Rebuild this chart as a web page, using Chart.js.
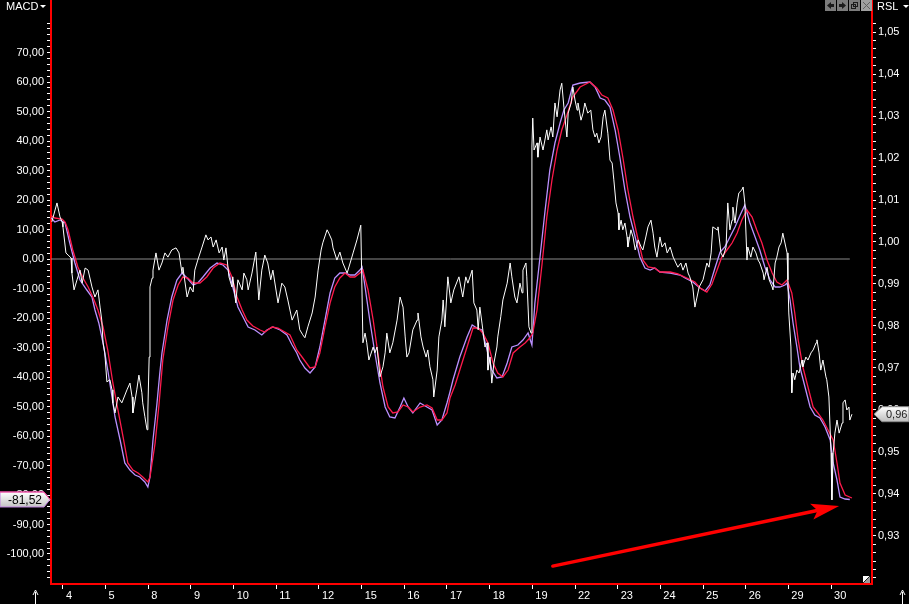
<!DOCTYPE html>
<html>
<head>
<meta charset="utf-8">
<script src="https://cdn.jsdelivr.net/npm/chart.js"></script>
<style>
  html, body { margin: 0; padding: 0; background: #000; }
  canvas { display: block; }
</style>
</head>
<body>
<canvas id="grafico" width="909" height="604"></canvas>
<script>
// day labels under the tick marks
const dayLabels = ['4','5','8','9','10','11','12','15','16','17','18','19','22','23','24','25','26','29','30']

// RSL (white, right axis)
const rslX = [
  -0.26,-0.14,-0.07,-0.02,0.00,0.07,0.12,0.19,0.21,0.26,
  0.33,0.40,0.45,0.52,0.59,0.68,0.75,0.82,0.87,0.91,
  0.94,0.98,1.03,1.10,1.15,1.17,1.22,1.29,1.38,1.50,
  1.57,1.62,1.64,1.73,1.78,1.85,1.87,1.92,1.97,1.99,
  2.02,2.04,2.09,2.11,2.18,2.25,2.32,2.39,2.46,2.55,
  2.65,2.72,2.79,2.81,2.91,2.98,3.05,3.09,3.16,3.26,
  3.35,3.40,3.47,3.52,3.59,3.66,3.73,3.77,3.82,3.89,
  3.96,3.98,4.05,4.10,4.20,4.24,4.31,4.34,4.43,4.52,
  4.59,4.66,4.73,4.80,4.87,4.92,5.04,5.13,5.20,5.27,
  5.37,5.48,5.55,5.62,5.67,5.74,5.84,5.91,5.98,6.05,
  6.09,6.19,6.23,6.30,6.33,6.42,6.49,6.56,6.66,6.80,
  6.89,6.98,7.03,7.08,7.12,7.17,7.27,7.31,7.36,7.43,
  7.50,7.55,7.59,7.66,7.73,7.83,7.90,7.97,8.02,8.06,
  8.11,8.20,8.30,8.32,8.39,8.44,8.51,8.55,8.60,8.67,
  8.69,8.77,8.81,8.88,8.91,8.95,9.02,9.09,9.16,9.28,
  9.37,9.44,9.49,9.59,9.63,9.70,9.73,9.77,9.82,9.89,
  9.94,9.96,10.01,10.05,10.10,10.17,10.19,10.26,10.31,10.41,
  10.48,10.52,10.59,10.64,10.71,10.76,10.78,10.85,10.87,10.92,
  10.97,10.99,11.01,11.04,11.11,11.13,11.18,11.25,11.34,11.37,
  11.44,11.48,11.53,11.58,11.65,11.69,11.74,11.81,11.84,11.91,
  11.95,12.00,12.05,12.07,12.14,12.19,12.23,12.30,12.37,12.42,
  12.47,12.51,12.56,12.61,12.66,12.70,12.77,12.82,12.87,12.91,
  12.96,13.01,13.03,13.08,13.12,13.17,13.22,13.24,13.31,13.36,
  13.41,13.48,13.55,13.59,13.66,13.71,13.78,13.83,13.87,13.92,
  13.99,14.04,14.11,14.16,14.23,14.30,14.41,14.48,14.53,14.60,
  14.65,14.69,14.76,14.81,14.86,14.91,15.00,15.09,15.14,15.19,
  15.23,15.33,15.35,15.42,15.47,15.54,15.58,15.63,15.68,15.70,
  15.75,15.80,15.84,15.91,15.94,15.98,16.03,16.05,16.12,16.17,
  16.24,16.29,16.33,16.41,16.43,16.50,16.55,16.62,16.64,16.69,
  16.73,16.78,16.83,16.87,16.94,16.97,16.99,17.01,17.06,17.07,
  17.08,17.11,17.15,17.20,17.25,17.32,17.34,17.41,17.46,17.53,
  17.58,17.65,17.67,17.72,17.76,17.81,17.88,17.90,17.95,18.00,
  18.02,18.05,18.09,18.14,18.19,18.26,18.28,18.33,18.37,18.42,
  18.44,18.49
]
const rslY = [
  1.0048,1.0093,1.0060,1.0048,1.0036,0.9974,0.9969,0.9962,0.9926,0.9886,
  0.9910,0.9933,0.9902,0.9938,0.9933,0.9893,0.9869,0.9886,0.9845,0.9814,
  0.9760,0.9736,0.9667,0.9672,0.9648,0.9617,0.9593,0.9631,0.9617,0.9648,
  0.9664,0.9631,0.9593,0.9648,0.9683,0.9641,0.9617,0.9584,0.9553,0.9600,
  0.9726,0.9893,0.9914,0.9933,0.9974,0.9933,0.9950,0.9974,0.9964,0.9981,
  0.9986,0.9974,0.9926,0.9940,0.9869,0.9893,0.9881,0.9933,0.9957,0.9988,
  1.0017,1.0005,1.0012,0.9988,1.0005,0.9974,0.9988,0.9957,0.9986,0.9917,
  0.9893,0.9917,0.9855,0.9910,0.9886,0.9926,0.9910,0.9886,0.9926,0.9976,
  0.9862,0.9933,0.9969,0.9950,0.9910,0.9933,0.9855,0.9902,0.9893,0.9862,
  0.9814,0.9838,0.9791,0.9779,0.9772,0.9798,0.9831,0.9869,0.9933,0.9981,
  0.9998,1.0029,1.0021,1.0005,0.9986,0.9957,0.9976,0.9950,0.9926,0.9974,
  1.0005,1.0040,0.9760,0.9783,0.9760,0.9719,0.9750,0.9736,0.9750,0.9679,
  0.9703,0.9736,0.9783,0.9736,0.9760,0.9814,0.9869,0.9845,0.9774,0.9726,
  0.9736,0.9791,0.9814,0.9831,0.9774,0.9750,0.9726,0.9743,0.9703,0.9672,
  0.9631,0.9695,0.9774,0.9814,0.9862,0.9798,0.9917,0.9855,0.9886,0.9917,
  0.9869,0.9917,0.9902,0.9933,0.9855,0.9838,0.9791,0.9845,0.9807,0.9750,
  0.9760,0.9695,0.9726,0.9664,0.9712,0.9750,0.9774,0.9822,0.9862,0.9902,
  0.9950,0.9917,0.9869,0.9855,0.9902,0.9879,0.9933,0.9950,0.9917,0.9798,
  0.9783,1.0226,1.0295,1.0219,1.0236,1.0202,1.0250,1.0219,1.0267,1.0243,
  1.0274,1.0250,1.0331,1.0298,1.0362,1.0378,1.0321,1.0250,1.0307,1.0331,
  1.0369,1.0338,1.0314,1.0331,1.0290,1.0307,1.0331,1.0307,1.0314,1.0267,
  1.0250,1.0259,1.0236,1.0250,1.0298,1.0314,1.0259,1.0195,1.0188,1.0148,
  1.0093,1.0069,1.0029,1.0052,1.0029,1.0045,1.0012,0.9988,1.0029,1.0012,
  0.9981,1.0005,0.9988,0.9981,1.0012,1.0036,1.0052,1.0021,0.9988,0.9964,
  1.0012,0.9988,0.9998,0.9974,0.9988,0.9964,0.9940,0.9950,0.9933,0.9950,
  0.9926,0.9917,0.9893,0.9845,0.9869,0.9893,0.9910,0.9950,0.9940,0.9974,
  1.0036,1.0029,1.0036,0.9974,0.9964,0.9988,1.0093,1.0029,1.0052,1.0083,
  1.0045,1.0093,1.0117,1.0124,1.0131,1.0093,0.9957,0.9988,0.9964,0.9988,
  0.9974,0.9957,0.9950,0.9926,0.9910,0.9940,0.9910,0.9893,0.9886,0.9950,
  0.9964,0.9988,0.9998,1.0021,0.9988,0.9974,0.9910,0.9831,0.9750,0.9688,
  0.9641,0.9688,0.9672,0.9695,0.9688,0.9719,0.9703,0.9726,0.9719,0.9736,
  0.9743,0.9760,0.9767,0.9736,0.9695,0.9719,0.9679,0.9672,0.9631,0.9498,
  0.9386,0.9498,0.9545,0.9576,0.9545,0.9569,0.9617,0.9624,0.9600,0.9607,
  0.9576,0.9590
]

// MACD (violet, left axis)
const macdX = [
  -0.30,-0.19,-0.07,0.05,0.16,0.28,0.40,0.56,0.68,0.75,
  0.84,0.94,1.05,1.15,1.22,1.34,1.45,1.57,1.69,1.80,
  1.92,1.99,2.04,2.11,2.20,2.27,2.32,2.44,2.55,2.67,
  2.79,2.91,3.05,3.16,3.28,3.45,3.61,3.75,3.87,3.98,
  4.10,4.22,4.34,4.50,4.66,4.78,4.92,5.09,5.25,5.37,
  5.48,5.55,5.67,5.79,5.91,6.02,6.14,6.26,6.37,6.49,
  6.61,6.73,6.84,6.96,7.01,7.08,7.19,7.31,7.43,7.55,
  7.66,7.78,7.90,7.99,8.09,8.20,8.37,8.53,8.65,8.77,
  8.88,9.00,9.07,9.14,9.30,9.47,9.59,9.70,9.82,9.94,
  10.05,10.17,10.29,10.41,10.52,10.66,10.78,10.90,10.99,11.06,
  11.18,11.30,11.41,11.53,11.65,11.74,11.84,11.95,12.12,12.35,
  12.47,12.59,12.70,12.82,12.94,13.05,13.17,13.29,13.41,13.52,
  13.64,13.76,13.87,13.99,14.23,14.46,14.58,14.76,14.93,15.05,
  15.16,15.28,15.40,15.51,15.63,15.75,15.87,15.98,16.10,16.22,
  16.33,16.45,16.57,16.69,16.80,16.92,16.97,17.04,17.11,17.20,
  17.27,17.39,17.51,17.62,17.74,17.86,17.98,18.05,18.14,18.21,
  18.33,18.44
]
const macdY = [
  14.24,12.54,13.22,12.20,5.42,-1.36,-7.12,-10.51,-12.88,-17.29,
  -21.69,-28.47,-37.63,-46.78,-53.56,-61.36,-69.15,-71.53,-73.22,-73.90,
  -75.59,-77.29,-73.90,-61.36,-49.49,-38.64,-31.86,-20.68,-12.88,-7.12,
  -4.75,-6.44,-8.81,-8.14,-6.10,-3.05,-1.36,-2.03,-3.73,-9.49,
  -16.27,-19.66,-23.05,-24.07,-25.76,-24.07,-23.05,-24.07,-25.76,-29.15,
  -31.86,-34.24,-36.95,-38.64,-36.61,-29.83,-20.68,-11.53,-6.44,-4.75,
  -4.75,-5.42,-5.42,-3.73,-2.71,-9.49,-20.68,-31.86,-42.03,-50.17,
  -53.56,-53.90,-50.17,-47.12,-50.17,-52.20,-48.81,-50.17,-51.19,-56.27,
  -54.58,-48.81,-45.08,-41.02,-33.22,-26.44,-22.37,-23.39,-24.07,-30.85,
  -37.63,-40.34,-40.00,-35.25,-29.83,-29.15,-27.46,-25.08,-29.15,-14.92,
  0.68,16.61,30.17,39.32,46.10,50.51,52.88,58.98,59.66,60.00,
  58.31,54.58,53.90,51.53,43.73,34.58,23.39,14.24,7.46,0.68,
  -3.05,-3.73,-3.05,-4.41,-4.75,-5.42,-6.44,-7.80,-9.83,-10.85,
  -8.81,-3.05,2.37,4.07,7.46,10.85,14.92,18.31,12.20,7.46,
  3.05,-2.71,-7.12,-9.49,-9.49,-8.81,-8.14,-13.90,-21.69,-29.83,
  -36.61,-43.39,-50.17,-52.88,-53.90,-56.95,-61.36,-69.15,-74.92,-80.68,
  -81.36,-81.52
]

// signal line (red, left axis)
const signalX = [
  -0.30,-0.19,-0.02,0.05,0.12,0.23,0.35,0.47,0.59,0.70,
  0.82,0.94,1.05,1.17,1.29,1.41,1.52,1.64,1.76,1.87,
  1.99,2.04,2.16,2.25,2.34,2.46,2.58,2.70,2.81,2.93,
  3.05,3.21,3.37,3.52,3.68,3.84,3.96,4.08,4.20,4.31,
  4.45,4.62,4.73,4.90,5.04,5.20,5.32,5.48,5.62,5.79,
  5.91,6.02,6.14,6.26,6.37,6.49,6.61,6.73,6.84,6.96,
  7.03,7.15,7.27,7.38,7.50,7.62,7.73,7.85,7.97,8.09,
  8.20,8.37,8.53,8.65,8.77,8.88,9.00,9.07,9.19,9.30,
  9.47,9.61,9.73,9.84,9.96,10.08,10.19,10.31,10.43,10.55,
  10.71,10.83,10.94,11.01,11.11,11.23,11.34,11.46,11.58,11.69,
  11.81,11.95,12.12,12.35,12.51,12.63,12.77,12.89,13.01,13.12,
  13.24,13.36,13.48,13.59,13.71,13.87,13.99,14.23,14.41,14.62,
  14.81,14.93,15.09,15.21,15.33,15.44,15.56,15.68,15.80,15.91,
  16.03,16.15,16.26,16.38,16.50,16.62,16.73,16.85,16.97,17.08,
  17.15,17.23,17.34,17.46,17.58,17.69,17.81,17.93,18.05,18.14,
  18.21,18.33,18.49
]
const signalY = [
  14.92,13.90,13.56,12.54,9.83,3.05,-2.71,-6.44,-9.49,-12.88,
  -17.29,-23.05,-30.85,-42.03,-51.19,-60.34,-69.15,-71.53,-72.54,-73.90,
  -75.59,-73.90,-62.37,-49.49,-34.24,-23.05,-13.90,-8.81,-6.10,-6.44,
  -8.14,-8.14,-6.10,-3.05,-1.36,-2.03,-6.10,-12.88,-17.29,-20.68,
  -22.71,-24.07,-24.75,-23.05,-23.39,-24.75,-25.76,-30.85,-33.56,-36.95,
  -36.61,-31.86,-23.05,-14.92,-9.49,-6.44,-4.75,-6.10,-6.10,-4.75,
  -3.73,-10.51,-20.68,-31.86,-43.39,-50.17,-52.20,-51.86,-49.49,-50.17,
  -51.86,-50.17,-49.49,-50.51,-54.58,-54.58,-52.20,-47.12,-42.71,-37.63,
  -29.83,-23.39,-23.39,-25.08,-28.47,-35.25,-38.64,-40.00,-37.63,-31.86,
  -29.83,-28.47,-26.78,-25.08,-17.29,-1.36,14.24,26.78,36.95,43.73,
  48.81,54.92,58.31,60.00,57.97,55.59,54.58,50.51,43.73,34.58,
  23.39,14.24,6.44,-0.34,-2.71,-3.05,-4.41,-4.41,-5.08,-6.44,
  -7.80,-9.83,-11.19,-8.47,-3.73,0.68,3.05,5.42,8.81,13.22,
  16.61,14.24,9.83,5.42,-0.34,-4.75,-7.80,-8.81,-7.12,-11.53,
  -18.31,-27.46,-36.61,-43.39,-50.17,-52.20,-54.58,-57.97,-61.36,-69.15,
  -75.93,-80.00,-81.02
]

// zero line of the MACD panel
const zeroLineX = [-0.28, 18.44]
const zeroLineY = [0, 0]

// red hand drawn arrow, in axis units (x days, y MACD)
const arrowStart = [11.48, -104.1]
const arrowEnd = [18.19, -83.7]

Chart.defaults.font.family = "'Liberation Sans', Arial, sans-serif"
Chart.defaults.font.size = 11

const toPoints = (xs, ys) => xs.map((x, i) => ({ x: x, y: ys[i] }))
const fmt = (v, d) => v.toFixed(d).replace('.', ',')

const fixBox = (size) => (scale) => {
  if (scale.isHorizontal()) scale.height = size
  else scale.width = size
  scale.paddingTop = 0
  scale.paddingBottom = 0
  scale.paddingLeft = 0
  scale.paddingRight = 0
}

const drawBox = (ctx, pts, top, bottom, stroke) => {
  const ys = pts.map(p => p[1])
  const g = ctx.createLinearGradient(0, Math.min(...ys), 0, Math.max(...ys))
  g.addColorStop(0, top)
  g.addColorStop(1, bottom)
  ctx.beginPath()
  pts.forEach((p, i) => i ? ctx.lineTo(p[0], p[1]) : ctx.moveTo(p[0], p[1]))
  ctx.closePath()
  ctx.fillStyle = g
  ctx.fill()
  ctx.lineWidth = 1
  ctx.strokeStyle = stroke
  ctx.stroke()
}

const chrome = {
  id: 'chrome',
  beforeDraw(chart) {
    const ctx = chart.ctx
    ctx.save()
    ctx.fillStyle = '#000'
    ctx.fillRect(0, 0, chart.width, chart.height)
    ctx.restore()
  },
  afterDatasetsDraw(chart) {
    const { ctx, scales } = chart
    const x1 = scales.x.getPixelForValue(arrowStart[0])
    const y1 = scales.y.getPixelForValue(arrowStart[1])
    const x2 = scales.x.getPixelForValue(arrowEnd[0])
    const y2 = scales.y.getPixelForValue(arrowEnd[1])
    const a = Math.atan2(y2 - y1, x2 - x1)
    const c = Math.cos(a), s = Math.sin(a)
    const len = 28, half = 8
    const bx = x2 - len * c, by = y2 - len * s
    ctx.save()
    ctx.strokeStyle = '#ff0000'
    ctx.fillStyle = '#ff0000'
    ctx.lineWidth = 3.5
    ctx.lineCap = 'round'
    ctx.beginPath()
    ctx.moveTo(x1, y1)
    ctx.lineTo(bx + 8 * c, by + 8 * s)
    ctx.stroke()
    ctx.beginPath()
    ctx.moveTo(x2, y2)
    ctx.lineTo(bx - half * s, by + half * c)
    ctx.lineTo(bx + 6 * c, by + 6 * s)
    ctx.lineTo(bx + half * s, by - half * c)
    ctx.closePath()
    ctx.fill()
    ctx.restore()
  },
  afterDraw(chart) {
    const { ctx, scales } = chart
    ctx.save()
    // panel titles
    ctx.fillStyle = '#fff'
    ctx.textBaseline = 'middle'
    ctx.font = "11px 'Liberation Sans', Arial, sans-serif"
    ctx.textAlign = 'left'
    ctx.fillText('MACD', 6, 7)
    ctx.fillText('RSL', 877, 7)
    ;[40, 903].forEach(x => {
      ctx.beginPath()
      ctx.moveTo(x, 5); ctx.lineTo(x + 6, 5); ctx.lineTo(x + 3, 8)
      ctx.closePath(); ctx.fill()
    })

    // small window buttons
    const bx = [825, 837, 849, 861]
    bx.forEach((x, i) => {
      ctx.fillStyle = i === 3 ? '#a0a0a0' : '#7c7c7c'
      ctx.fillRect(x, 0, 11, 11)
    })
    ctx.fillStyle = '#1c1c1c'
    ctx.strokeStyle = '#1c1c1c'
    ctx.lineWidth = 1
    ctx.beginPath(); ctx.moveTo(827, 5.5); ctx.lineTo(831, 2); ctx.lineTo(831, 9); ctx.closePath(); ctx.fill()
    ctx.fillRect(831, 4, 3, 3)
    ctx.beginPath(); ctx.moveTo(846, 5.5); ctx.lineTo(842, 2); ctx.lineTo(842, 9); ctx.closePath(); ctx.fill()
    ctx.fillRect(839, 4, 3, 3)
    ctx.strokeRect(853.5, 2.5, 4, 4)
    ctx.strokeRect(851.5, 4.5, 4, 4)
    ctx.strokeStyle = '#606060'
    ctx.beginPath(); ctx.moveTo(863, 2); ctx.lineTo(870, 9); ctx.moveTo(870, 2); ctx.lineTo(863, 9); ctx.stroke()

    // value boxes at the last values
    const yl = scales.y.getPixelForValue(macdY[macdY.length - 1])
    drawBox(ctx, [[0, yl - 7.5], [44, yl - 7.5], [50, yl], [44, yl + 7.5], [0, yl + 7.5]], '#ffffff', '#c4c4c4', '#c080e0')
    ctx.strokeStyle = '#ff3a8a'
    ctx.beginPath(); ctx.moveTo(0, yl - 7.5); ctx.lineTo(44, yl - 7.5); ctx.lineTo(50, yl); ctx.stroke()
    ctx.fillStyle = '#000'
    ctx.textAlign = 'center'
    ctx.font = "12px 'Liberation Sans', Arial, sans-serif"
    ctx.fillText(fmt(macdY[macdY.length - 1], 2), 25, yl + 1)

    const yr = scales.y2.getPixelForValue(rslY[rslY.length - 1])
    drawBox(ctx, [[874, yr], [882, yr - 7.5], [909, yr - 7.5], [909, yr + 7.5], [882, yr + 7.5]], '#ffffff', '#bdbdbd', '#8a8a8a')
    ctx.fillStyle = '#202020'
    ctx.textAlign = 'left'
    ctx.font = "11px 'Liberation Sans', Arial, sans-serif"
    ctx.fillText(fmt(rslY[rslY.length - 1], 2), 886, yr + 1)

    // resize corner
    const cx = chart.chartArea.right - 9, cy = chart.chartArea.bottom - 8
    ctx.fillStyle = '#9a9a9a'
    ctx.fillRect(cx, cy, 7, 7)
    ctx.fillStyle = '#ffffff'
    ctx.beginPath(); ctx.moveTo(cx, cy); ctx.lineTo(cx + 7, cy); ctx.lineTo(cx, cy + 7); ctx.closePath(); ctx.fill()
    ctx.strokeStyle = '#202020'
    ctx.beginPath(); ctx.moveTo(cx + 7, cy); ctx.lineTo(cx, cy + 7); ctx.stroke()

    // scroll arrows at the bottom
    ctx.strokeStyle = '#fff'
    ctx.fillStyle = '#fff'
    ;[35.5, 902.5].forEach(x => {
      ctx.beginPath(); ctx.moveTo(x, 592); ctx.lineTo(x, 604); ctx.stroke()
      ctx.beginPath(); ctx.moveTo(x - 2.5, 595); ctx.lineTo(x, 590); ctx.lineTo(x + 2.5, 595); ctx.stroke()
    })
    ctx.restore()
  }
}

const axisFont = { family: "'Liberation Sans', Arial, sans-serif", size: 11 }

new Chart(document.getElementById('grafico'), {
  type: 'line',
  data: {
    datasets: [
      { label: 'RSL', data: toPoints(rslX, rslY), yAxisID: 'y2', borderColor: '#ffffff', borderWidth: 1 },
      { label: 'Signal', data: toPoints(signalX, signalY), yAxisID: 'y', borderColor: '#ff1a4c', borderWidth: 1.3 },
      { label: 'MACD', data: toPoints(macdX, macdY), yAxisID: 'y', borderColor: '#bb90ff', borderWidth: 1.3 },
      { label: 'Null', data: toPoints(zeroLineX, zeroLineY), yAxisID: 'y', borderColor: '#8a8a8a', borderWidth: 1 }
    ]
  },
  options: {
    responsive: false,
    animation: false,
    events: [],
    layout: { padding: 0 },
    elements: { point: { radius: 0 }, line: { tension: 0 } },
    plugins: { legend: { display: false }, tooltip: { enabled: false } },
    scales: {
      x: {
        type: 'linear',
        position: 'bottom',
        min: -0.28,
        max: 18.96,
        afterFit: fixBox(20),
        border: { display: true, color: '#ff0000', width: 2 },
        grid: { display: true, drawOnChartArea: false, drawTicks: true, tickLength: 5, tickColor: '#ffffff' },
        ticks: {
          stepSize: 1,
          includeBounds: false,
          autoSkip: false,
          maxRotation: 0,
          align: 'start',
          labelOffset: 3,
          padding: 0,
          color: '#ffffff',
          font: axisFont,
          callback: (v) => dayLabels[v] !== undefined ? dayLabels[v] : ''
        }
      },
      y: {
        type: 'linear',
        position: 'left',
        min: -110.17,
        max: 87.8,
        afterFit: fixBox(51),
        afterBuildTicks: (s) => { s.ticks = s.ticks.filter(t => t.value >= -108 && t.value <= 80) },
        border: { display: true, color: '#ff0000', width: 2 },
        grid: { display: true, drawOnChartArea: false, drawTicks: true, tickLength: 4, tickColor: '#ffffff' },
        ticks: {
          stepSize: 2,
          includeBounds: false,
          autoSkip: false,
          padding: 3,
          color: '#ffffff',
          font: axisFont,
          callback: (v) => Math.round(v) % 10 === 0 && v <= 70 ? fmt(v, 2) : ''
        }
      },
      y2: {
        type: 'linear',
        position: 'right',
        min: 0.91857,
        max: 1.05762,
        afterFit: fixBox(37),
        afterBuildTicks: (s) => { s.ticks = s.ticks.filter(t => t.value >= 0.9199 && t.value <= 1.0521) },
        border: { display: true, color: '#ff0000', width: 2 },
        grid: { display: true, drawOnChartArea: false, drawTicks: true, tickLength: 4, tickColor: '#ffffff' },
        ticks: {
          stepSize: 0.002,
          includeBounds: false,
          autoSkip: false,
          padding: 2,
          color: '#ffffff',
          font: axisFont,
          callback: (v) => Math.round(v * 1000) % 10 === 0 && v > 0.925 ? fmt(v, 2) : ''
        }
      }
    }
  },
  plugins: [chrome]
})
</script>
</body>
</html>
